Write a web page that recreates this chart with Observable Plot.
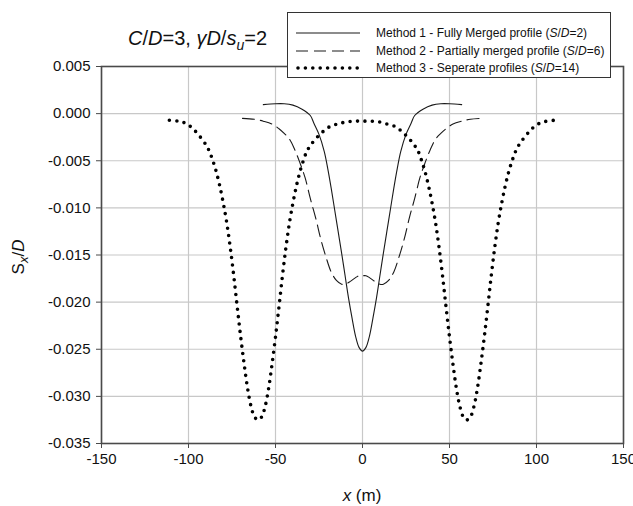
<!DOCTYPE html>
<html>
<head>
<meta charset="utf-8">
<script src="https://cdn.jsdelivr.net/npm/d3@7"></script>
<script src="https://cdn.jsdelivr.net/npm/@observablehq/plot@0.6"></script>
<style>
  body { margin: 0; background: #fff; font-family: "Liberation Sans", Arial, sans-serif; }
  #wrap { position: relative; width: 633px; height: 506px; }
  .ov { position: absolute; color: #111; white-space: nowrap; }
  #title { left: 128px; top: 27px; font-size: 20px; }
  #ylab { left: 20px; top: 257px; font-size: 17px; transform: translate(-50%, -50%) rotate(-90deg); }
  #xlab { left: 362px; top: 486px; font-size: 17px; transform: translateX(-50%); }
  #legend { left: 287px; top: 12px; width: 322px; height: 64px; border: 1.5px solid #333; background: #fff; }
  .row { position: absolute; left: 0; font-size: 12px; height: 16px; line-height: 16px; }
  .row svg { position: absolute; left: 8px; top: 0; }
  .row span { position: absolute; left: 88px; top: 0; }
</style>
</head>
<body>
<div id="wrap">
  <div id="chart"></div>
  <div class="ov" id="title"><i>C</i>/<i>D</i>=3, <i>&#947;D</i>/<i>s<sub style="font-size:14px">u</sub></i>=2</div>
  <div class="ov" id="ylab">S<sub style="font-size:13px"><i>x</i></sub>/<i>D</i></div>
  <div class="ov" id="xlab"><i>x</i> (m)</div>
  <div class="ov" id="legend"></div>
</div>
<script>
// ---- data ----
const seriesNames = [
  "Method 1 - Fully Merged profile",
  "Method 2 - Partially merged profile",
  "Method 3 - Seperate profiles"
];
const seriesSD = ["2", "6", "14"];

const m1x = [-57,-50,-45,-40,-35,-30,-28,-25,-22,-20,-18,-16,-14,-12,-10,-8,-6,-4,-2,0,
             2,4,6,8,10,12,14,16,18,20,22,25,28,30,35,40,45,50,57];
const m1y = [0.00095,0.00105,0.00105,0.0009,0.0005,-0.0002,-0.0010,-0.0022,-0.0040,-0.0058,-0.0079,-0.0102,-0.0125,-0.0148,-0.0172,-0.0196,-0.0217,-0.0236,-0.0248,-0.0252,
             -0.0248,-0.0236,-0.0217,-0.0196,-0.0172,-0.0148,-0.0125,-0.0102,-0.0079,-0.0058,-0.0040,-0.0022,-0.0010,-0.0002,0.0005,0.0009,0.00105,0.00105,0.00095];

const m2x = [-69,-62,-57,-52,-48,-45,-42,-39,-36,-33,-30,-27,-24,-21,-18,-15,-12,-10,-7,-4,-2,0,
             2,4,7,10,12,15,18,21,24,27,30,33,36,39,42,45,48,52,57,62,69];
const m2y = [-0.0005,-0.0006,-0.0008,-0.0011,-0.0016,-0.0021,-0.0027,-0.0038,-0.0052,-0.0068,-0.0090,-0.0110,-0.0133,-0.0152,-0.0168,-0.0177,-0.0181,-0.0181,-0.0178,-0.0174,-0.0172,-0.0172,
             -0.0172,-0.0174,-0.0178,-0.0181,-0.0181,-0.0177,-0.0168,-0.0152,-0.0133,-0.0110,-0.0090,-0.0068,-0.0052,-0.0038,-0.0027,-0.0021,-0.0016,-0.0011,-0.0008,-0.0006,-0.0005];

const m3x = [-111,-106,-102,-98,-94,-90,-88,-86,-84,-82,-80,-78,-76,-74,-72,-70,-68,-66,-64,-62,-60,-58,-56,-54,-52,-50,-48,-46,-44,-42,-40,-38,-36,-34,-32,-30,-26,-22,-18,-14,-10,-5,0,
             5,10,14,18,22,26,30,32,34,36,38,40,42,44,46,48,50,52,54,56,58,60,62,64,66,68,70,72,74,76,78,80,82,84,86,88,90,94,98,102,106,111];
const m3y = [-0.0007,-0.0008,-0.0010,-0.0015,-0.0023,-0.0033,-0.0040,-0.0050,-0.0062,-0.0077,-0.0095,-0.0116,-0.0142,-0.0172,-0.0205,-0.0237,-0.0266,-0.0292,-0.0311,-0.0322,-0.0325,-0.0322,-0.0311,-0.0292,-0.0266,-0.0237,-0.0205,-0.0172,-0.0142,-0.0116,-0.0095,-0.0077,-0.0062,-0.0050,-0.0040,-0.0034,-0.0025,-0.0018,-0.0013,-0.0011,-0.0009,-0.0008,-0.0008,
             -0.0008,-0.0009,-0.0011,-0.0013,-0.0018,-0.0025,-0.0034,-0.0040,-0.0050,-0.0062,-0.0077,-0.0095,-0.0116,-0.0142,-0.0172,-0.0205,-0.0237,-0.0266,-0.0292,-0.0311,-0.0322,-0.0325,-0.0322,-0.0311,-0.0292,-0.0266,-0.0237,-0.0205,-0.0172,-0.0142,-0.0116,-0.0095,-0.0077,-0.0062,-0.0050,-0.0040,-0.0033,-0.0023,-0.0015,-0.0010,-0.0008,-0.0007];

const xTicks = [-150,-100,-50,0,50,100,150];
const yTicks = [0.005,0.000,-0.005,-0.010,-0.015,-0.020,-0.025,-0.030,-0.035];

// ---- build ----
const toRows = (xs, ys) => xs.map((x, i) => ({x, y: ys[i]}));
const s1 = toRows(m1x, m1y), s2 = toRows(m2x, m2y), s3 = toRows(m3x, m3y);

const styles = [
  {stroke: "#1a1a1a", strokeWidth: 1.1},
  {stroke: "#1a1a1a", strokeWidth: 1.1, strokeDasharray: "12,6"},
  {stroke: "#000", strokeWidth: 3.6, strokeDasharray: "0,7.4", strokeLinecap: "round"}
];

const chart = Plot.plot({
  width: 633, height: 506,
  marginLeft: 101, marginRight: 10, marginTop: 66, marginBottom: 63,
  style: {fontFamily: "'Liberation Sans', Arial, sans-serif", fontSize: "15px", color: "#111", background: "#fff"},
  x: {domain: [-150, 150]},
  y: {domain: [-0.035, 0.005]},
  marks: [
    Plot.gridX(xTicks, {stroke: "#c8c8c8", strokeOpacity: 1, strokeWidth: 1.2}),
    Plot.gridY(yTicks, {stroke: "#c8c8c8", strokeOpacity: 1, strokeWidth: 1.2}),
    Plot.line(s1, {x: "x", y: "y", curve: "catmull-rom", ...styles[0]}),
    Plot.line(s2, {x: "x", y: "y", curve: "catmull-rom", ...styles[1]}),
    Plot.line(s3, {x: "x", y: "y", curve: "catmull-rom", ...styles[2]}),
    Plot.frame({stroke: "#4a4a4a", strokeWidth: 1.6}),
    Plot.axisX(xTicks, {tickSize: 5, tickPadding: 5, fontSize: 15, tickFormat: d => String(d), label: null, stroke: "#4a4a4a"}),
    Plot.axisY(yTicks, {tickSize: 5, tickPadding: 6, fontSize: 15, tickFormat: d => d.toFixed(3), label: null, stroke: "#4a4a4a"})
  ]
});
document.getElementById("chart").appendChild(chart);

// legend
const legend = document.getElementById("legend");
const rowTops = [12, 30, 47];
seriesNames.forEach((name, i) => {
  const row = document.createElement("div");
  row.className = "row";
  row.style.top = rowTops[i] + "px";
  const st = styles[i];
  row.innerHTML =
    `<svg width="66" height="16"><line x1="${i === 2 ? 2 : 0}" y1="8" x2="64" y2="8" stroke="${st.stroke}" stroke-width="${st.strokeWidth}"` +
    (st.strokeDasharray ? ` stroke-dasharray="${st.strokeDasharray}"` : "") +
    (st.strokeLinecap ? ` stroke-linecap="${st.strokeLinecap}"` : "") + `/></svg>` +
    `<span>${name} (<i>S</i>/<i>D</i>=${seriesSD[i]})</span>`;
  legend.appendChild(row);
});
</script>
</body>
</html>
